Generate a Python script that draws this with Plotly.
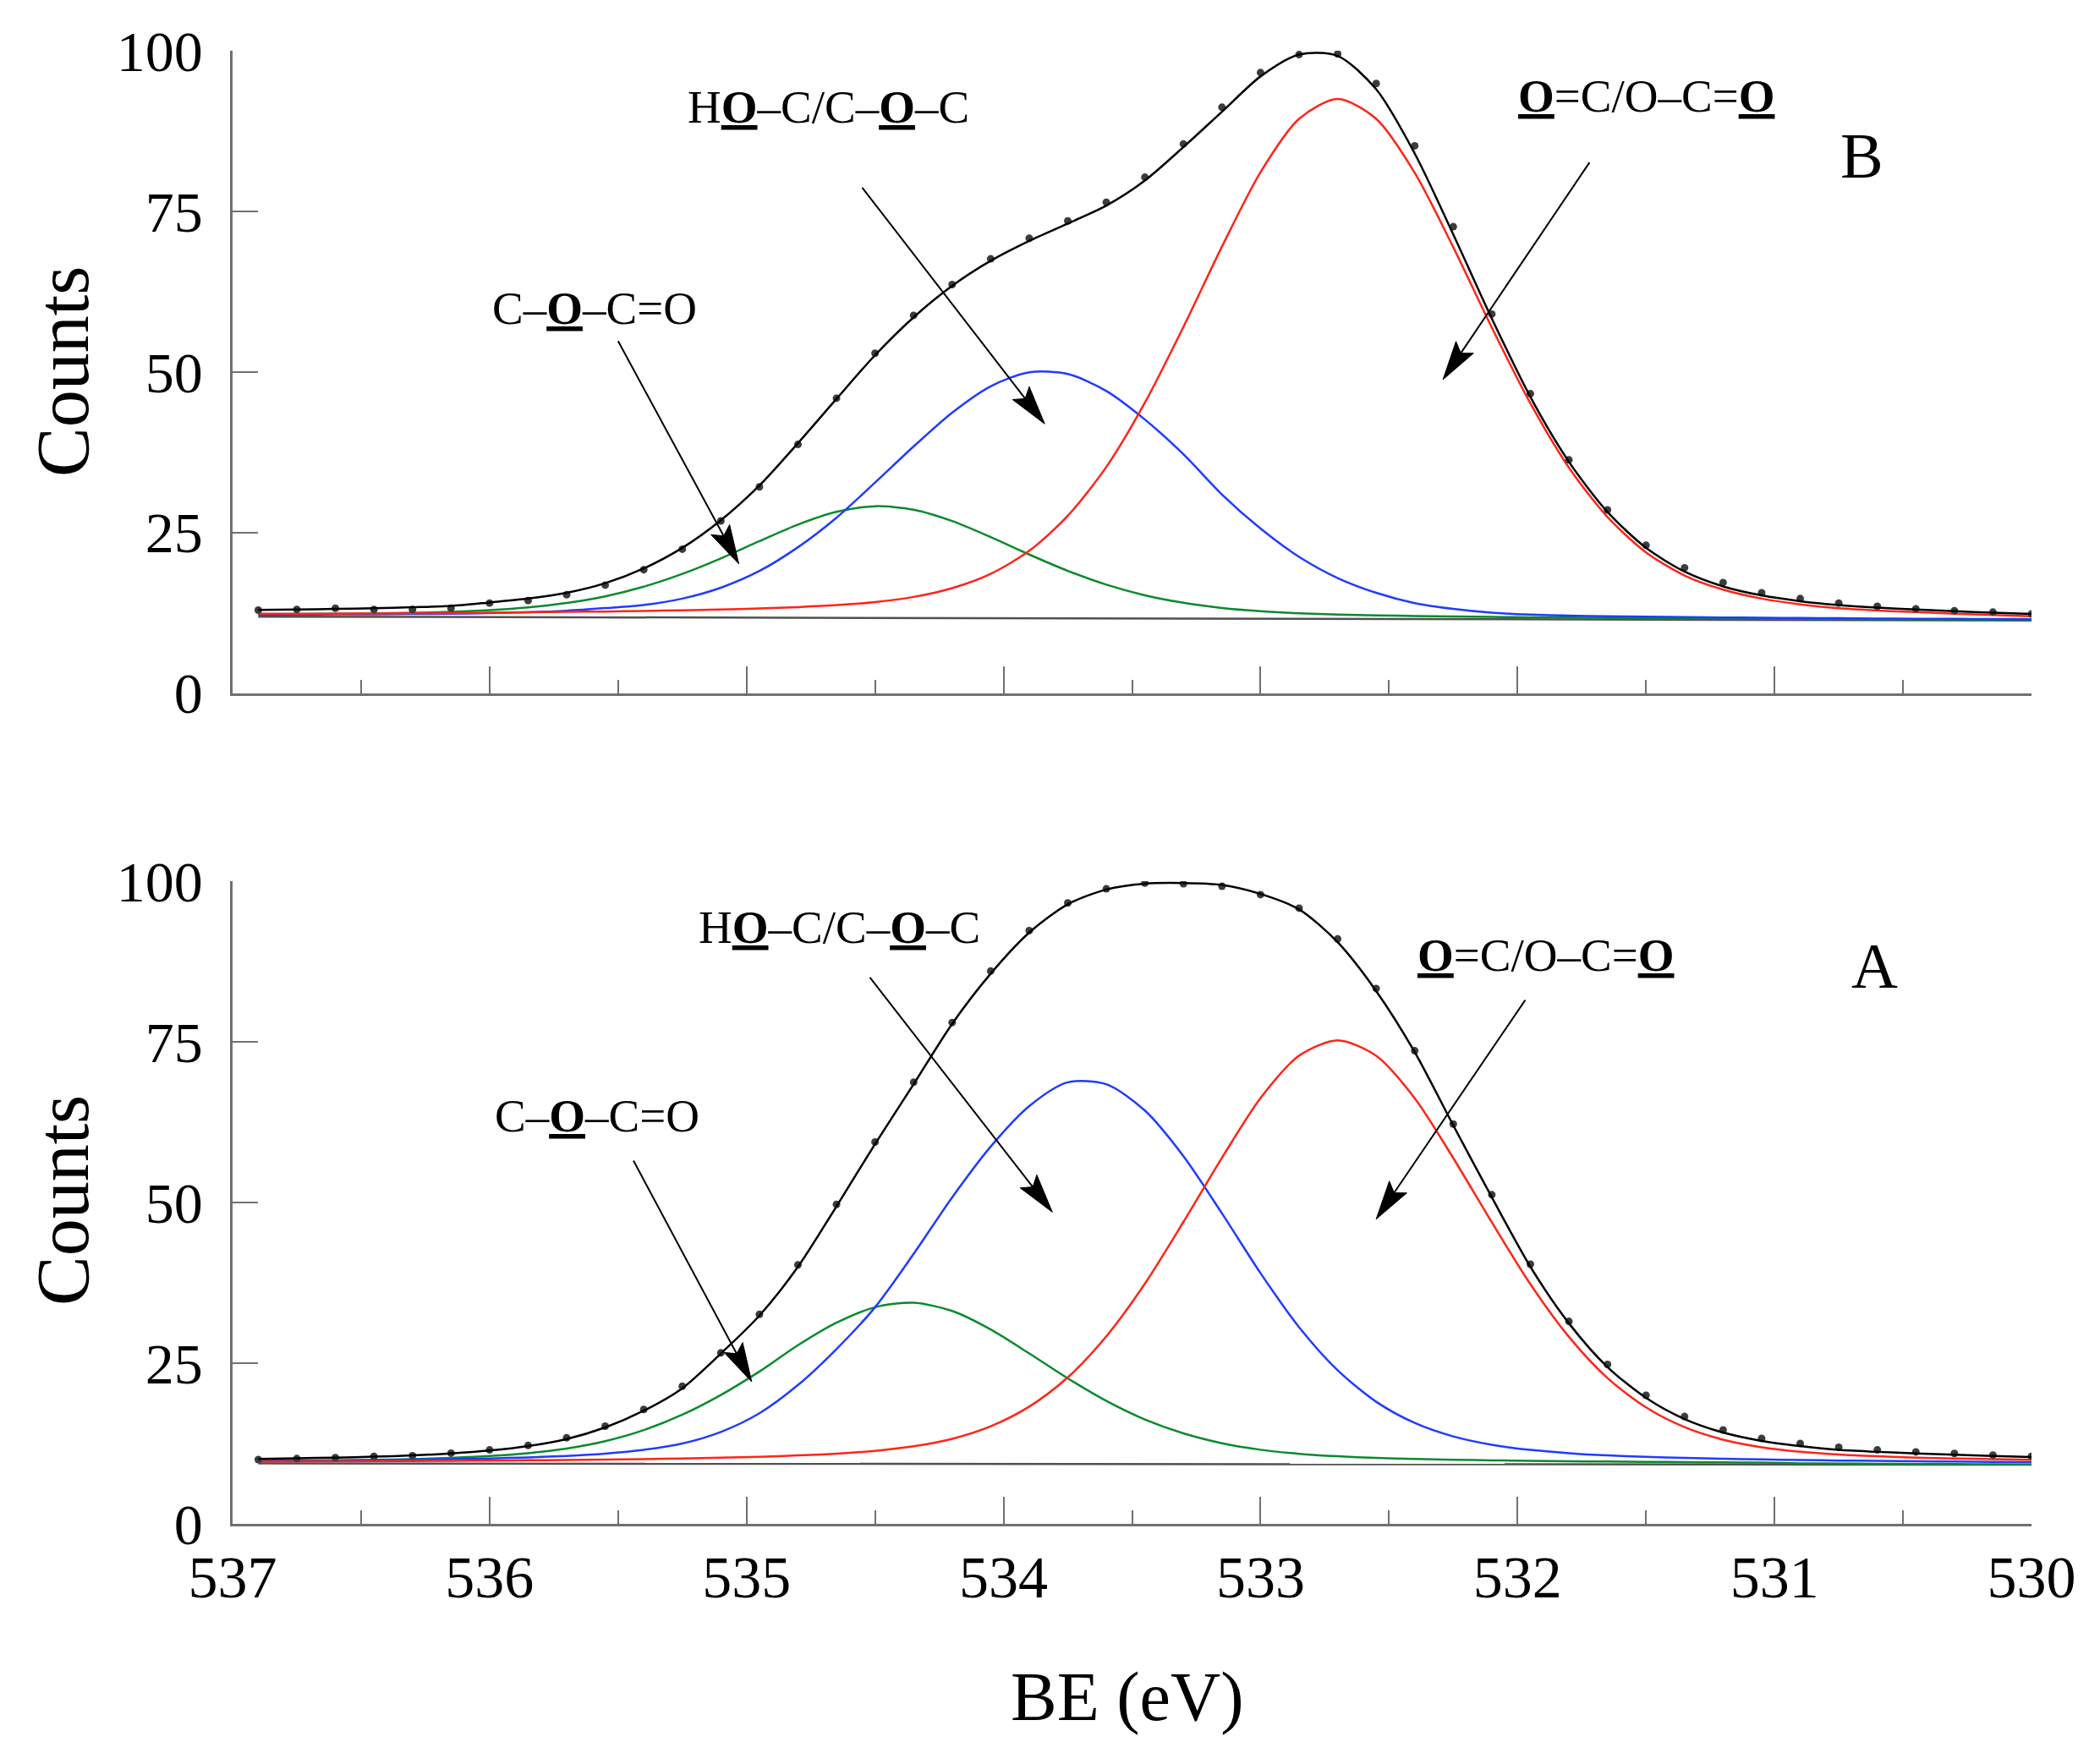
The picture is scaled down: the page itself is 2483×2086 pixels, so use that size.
import math
import plotly.graph_objects as go

# Binding energy grid (eV)
be = [536.9, 536.75, 536.6, 536.45, 536.3, 536.15, 536.0, 535.85, 535.7, 535.55,
      535.4, 535.25, 535.1, 534.95, 534.8, 534.65, 534.5, 534.35, 534.2, 534.05,
      533.9, 533.75, 533.6, 533.45, 533.3, 533.15, 533.0, 532.85, 532.7, 532.55,
      532.4, 532.25, 532.1, 531.95, 531.8, 531.65, 531.5, 531.35, 531.2, 531.05,
      530.9, 530.75, 530.6, 530.45, 530.3, 530.15, 530.0]

# ---------- Panel B (top) ----------
b_meas = [12.9, 13.0, 13.2, 13.0, 13.0, 13.2, 14.0, 14.4, 15.3, 16.8,
          19.2, 22.4, 26.8, 32.1, 38.7, 45.9, 52.9, 58.8, 63.6, 67.6,
          70.8, 73.5, 76.4, 80.3, 85.5, 91.2, 96.6, 99.4, 99.5, 94.9,
          85.2, 72.6, 59.0, 46.6, 36.3, 28.5, 23.0, 19.5, 17.2, 15.6,
          14.7, 14.0, 13.5, 13.1, 12.8, 12.6, 12.3]
b_fit = [12.95, 13.0, 13.1, 13.2, 13.35, 13.55, 14.1, 14.7, 15.6, 17.1,
         19.4, 22.6, 26.9, 32.3, 38.9, 45.8, 52.6, 58.5, 63.4, 67.3,
         70.4, 73.1, 75.9, 79.8, 85.0, 90.5, 96.0, 99.4, 99.2, 94.0,
         84.0, 71.4, 58.3, 46.1, 36.0, 28.2, 22.6, 18.9, 16.6, 15.2,
         14.3, 13.7, 13.3, 13.0, 12.75, 12.5, 12.3]
b_red = [12.33, 12.35, 12.36, 12.39, 12.43, 12.46, 12.51, 12.56, 12.63, 12.69,
         12.77, 12.88, 13.0, 13.16, 13.38, 13.68, 14.17, 14.96, 16.33, 18.55,
         22.14, 27.6, 35.2, 45.2, 57.0, 69.5, 81.1, 89.4, 92.5, 89.4,
         81.0, 69.4, 56.9, 45.1, 35.1, 27.4, 21.9, 18.3, 16.1, 14.7,
         13.8, 13.2, 12.85, 12.6, 12.35, 12.15, 11.95]
b_blue = [12.19, 12.21, 12.23, 12.26, 12.30, 12.35, 12.44, 12.58, 12.82, 13.22,
          13.7, 14.7, 16.4, 19.0, 22.7, 27.3, 32.77, 38.38, 43.65, 47.76,
          49.94, 49.68, 47.03, 42.58, 37.17, 30.9, 25.6, 21.2, 17.9, 15.6,
          14.0, 13.1, 12.5, 12.2, 12.05, 11.95, 11.87, 11.81, 11.76, 11.72,
          11.68, 11.64, 11.6, 11.57, 11.54, 11.51, 11.48]
b_green = [12.25, 12.29, 12.33, 12.39, 12.49, 12.64, 12.90, 13.33, 14.01, 15.05,
           16.55, 18.54, 20.96, 23.64, 26.22, 28.20, 29.08, 28.55, 26.78, 24.28,
           21.56, 19.02, 16.87, 15.22, 14.05, 13.24, 12.74, 12.42, 12.21, 12.08,
           11.99, 11.91, 11.84, 11.79, 11.75, 11.70, 11.67, 11.64, 11.60, 11.57,
           11.55, 11.52, 11.49, 11.47, 11.45, 11.43, 11.41]
b_bg_x = [536.9, 530.0]
b_bg_y = [11.9, 11.3]

# ---------- Panel A (bottom) ----------
a_meas = [10.0, 10.15, 10.3, 10.5, 10.6, 11.0, 11.5, 12.2, 13.4, 15.2,
          17.8, 21.4, 26.6, 32.6, 40.3, 49.7, 59.4, 68.7, 78.0, 86.0,
          92.3, 96.6, 98.8, 99.7, 99.6, 99.2, 97.9, 95.8, 91.0, 83.3,
          73.6, 62.2, 51.2, 40.4, 31.5, 24.8, 20.0, 16.7, 14.6, 13.3,
          12.5, 11.9, 11.5, 11.2, 10.95, 10.7, 10.5]
a_fit = [10.1, 10.2, 10.3, 10.45, 10.65, 10.95, 11.4, 12.1, 13.2, 15.0,
         17.6, 21.1, 26.5, 32.4, 40.0, 49.4, 59.1, 68.4, 77.8, 85.6,
         92.0, 96.4, 98.7, 99.6, 99.7, 99.4, 98.0, 95.6, 90.5, 82.9,
         73.4, 62.0, 50.8, 40.0, 31.2, 24.4, 19.6, 16.3, 14.2, 12.9,
         12.1, 11.5, 11.2, 10.95, 10.75, 10.55, 10.4]
a_red = [9.7, 9.72, 9.74, 9.76, 9.78, 9.81, 9.84, 9.89, 9.94, 10.0,
         10.07, 10.17, 10.29, 10.44, 10.65, 10.93, 11.36, 12.06, 13.23, 15.18,
         18.24, 22.79, 29.18, 37.37, 46.97, 56.96, 66.25, 72.84, 75.24, 72.83,
         66.22, 56.91, 46.91, 37.30, 29.09, 22.68, 18.12, 15.04, 13.09, 11.91,
         11.21, 10.78, 10.51, 10.31, 10.18, 10.06, 9.96]
a_blue = [9.8, 9.84, 9.88, 9.93, 9.99, 10.07, 10.18, 10.34, 10.57, 10.93,
          11.52, 12.5, 14.3, 17.2, 21.6, 27.2, 33.7, 42.0, 50.8, 58.7,
          65.0, 68.7, 68.4, 64.3, 57.2, 48.3, 39.0, 30.6, 23.9, 19.0,
          15.7, 13.6, 12.3, 11.5, 11.0, 10.65, 10.42, 10.25, 10.12, 10.02,
          9.93, 9.85, 9.79, 9.73, 9.69, 9.64, 9.6]
a_green = [9.75, 9.8, 9.87, 9.96, 10.08, 10.27, 10.55, 11.0, 11.72, 12.86,
           14.58, 16.98, 20.05, 23.7, 27.8, 31.3, 33.7, 34.4, 33.12, 30.24,
           26.51, 22.63, 19.12, 16.23, 14.07, 12.54, 11.53, 10.90, 10.51, 10.26,
           10.09, 9.97, 9.88, 9.81, 9.74, 9.69, 9.65, 9.60, 9.56, 9.53,
           9.42, 9.38, 9.35, 9.32, 9.30, 9.28, 9.26]
a_bg_x = [536.9, 530.0]
a_bg_y = [9.4, 9.2]

for arr in (b_meas, b_fit, b_red, b_blue, b_green, a_meas, a_fit, a_red, a_blue, a_green):
    assert len(arr) == len(be), len(arr)

# Labels and arrows (data coordinates)
lab_coc = "C\u2013<b><u>O</u></b>\u2013C=O"
lab_hoc = "H<b><u>O</u></b>\u2013C/C\u2013<b><u>O</u></b>\u2013C"
lab_oco = "<b><u>O</u></b>=C/O\u2013C=<b><u>O</u></b>"

b_labels = [(lab_coc, 535.59, 59.9), (lab_hoc, 534.68, 91.2), (lab_oco, 531.50, 93.0)]
b_arrows = [((535.50, 54.8), (535.03, 20.1)),
            ((534.55, 78.7), (533.84, 41.9)),
            ((531.72, 82.6), (532.29, 48.8))]
b_letter = ("B", 530.66, 83.7)

a_labels = [(lab_coc, 535.58, 63.5), (lab_hoc, 534.64, 92.8), (lab_oco, 531.89, 88.5)]
a_arrows = [((535.44, 56.5), (534.98, 22.1)),
            ((534.52, 85.0), (533.81, 48.5)),
            ((531.97, 81.5), (532.55, 47.4))]
a_letter = ("A", 530.61, 86.8)

FONT = "Liberation Serif, Times New Roman, serif"
RED = "#ff2418"
BLUE = "#1f3cff"
GREEN = "#0b8a2c"
AXC = "#707070"

# pixel scale of the plot areas (used only to shape the arrow heads)
PX_PER_EV = 2127 / 7.0
PX_PER_COUNT = 759.5 / 100.0
HEAD_LEN = 46.0
HEAD_HALF = 12.5

fig = go.Figure()
shapes = []


def add_panel(xa, ya, meas, fit, red, blue, green, bgx, bgy):
    fig.add_trace(go.Scatter(x=bgx, y=bgy, mode="lines", xaxis=xa, yaxis=ya,
                             line=dict(color="#505050", width=2.5), showlegend=False))
    fig.add_trace(go.Scatter(x=be, y=green, mode="lines", xaxis=xa, yaxis=ya,
                             line=dict(color=GREEN, width=2.5, shape="spline", smoothing=0.8),
                             showlegend=False))
    fig.add_trace(go.Scatter(x=be, y=blue, mode="lines", xaxis=xa, yaxis=ya,
                             line=dict(color=BLUE, width=2.5, shape="spline", smoothing=0.8),
                             showlegend=False))
    fig.add_trace(go.Scatter(x=be, y=red, mode="lines", xaxis=xa, yaxis=ya,
                             line=dict(color=RED, width=2.5, shape="spline", smoothing=0.8),
                             showlegend=False))
    fig.add_trace(go.Scatter(x=be, y=meas, mode="markers", xaxis=xa, yaxis=ya,
                             marker=dict(color="#3c3c3c", size=9, symbol="circle"),
                             showlegend=False))
    fig.add_trace(go.Scatter(x=be, y=fit, mode="lines", xaxis=xa, yaxis=ya,
                             line=dict(color="black", width=2.5, shape="spline", smoothing=0.8),
                             showlegend=False))


def add_arrows(xa, ya, arrows):
    for (x0, y0), (x1, y1) in arrows:
        # screen-like frame: right = -eV, up = counts
        sx0, sy0 = -x0 * PX_PER_EV, y0 * PX_PER_COUNT
        sx1, sy1 = -x1 * PX_PER_EV, y1 * PX_PER_COUNT
        dx, dy = sx1 - sx0, sy1 - sy0
        n = math.hypot(dx, dy)
        ux, uy = dx / n, dy / n
        px, py = -uy, ux
        bx, by = sx1 - HEAD_LEN * ux, sy1 - HEAD_LEN * uy
        nx, ny = sx1 - 0.82 * HEAD_LEN * ux, sy1 - 0.82 * HEAD_LEN * uy
        pts = [(sx1, sy1), (bx + HEAD_HALF * px, by + HEAD_HALF * py), (nx, ny),
               (bx - HEAD_HALF * px, by - HEAD_HALF * py)]
        pts = [(-sx / PX_PER_EV, sy / PX_PER_COUNT) for sx, sy in pts]
        path = "M " + " L ".join(f"{p[0]:.5f},{p[1]:.4f}" for p in pts) + " Z"
        shapes.append(dict(type="path", path=path, xref=xa, yref=ya,
                           fillcolor="black", line=dict(color="black", width=1)))
        # shaft ends at the notch of the head
        fig.add_trace(go.Scatter(x=[x0, -nx / PX_PER_EV], y=[y0, ny / PX_PER_COUNT],
                                 mode="lines", xaxis=xa, yaxis=ya,
                                 line=dict(color="black", width=2), showlegend=False))


add_panel("x", "y", b_meas, b_fit, b_red, b_blue, b_green, b_bg_x, b_bg_y)
add_arrows("x", "y", b_arrows)
add_panel("x2", "y2", a_meas, a_fit, a_red, a_blue, a_green, a_bg_x, a_bg_y)
add_arrows("x2", "y2", a_arrows)

annotations = []
for txt, xx, yy in b_labels:
    annotations.append(dict(text=txt, x=xx, y=yy, xref="x", yref="y", showarrow=False,
                            font=dict(size=55, color="black", family=FONT)))
for txt, xx, yy in a_labels:
    annotations.append(dict(text=txt, x=xx, y=yy, xref="x2", yref="y2", showarrow=False,
                            font=dict(size=55, color="black", family=FONT)))
annotations.append(dict(text=b_letter[0], x=b_letter[1], y=b_letter[2], xref="x", yref="y",
                        showarrow=False, font=dict(size=76, color="black", family=FONT)))
annotations.append(dict(text=a_letter[0], x=a_letter[1], y=a_letter[2], xref="x2", yref="y2",
                        showarrow=False, font=dict(size=76, color="black", family=FONT)))
# axis titles
for yy in (0.7819, 0.2193):
    annotations.append(dict(text="Counts", x=-0.094, y=yy, xref="paper", yref="paper",
                            textangle=-90, showarrow=False, xanchor="center", yanchor="middle",
                            font=dict(size=88, color="black", family=FONT)))
annotations.append(dict(text="BE (eV)", x=0.4974, y=-0.1172, xref="paper", yref="paper",
                        showarrow=False, xanchor="center", yanchor="middle",
                        font=dict(size=82, color="black", family=FONT)))

xcommon = dict(range=[537, 530], showline=True, linecolor=AXC, linewidth=2.5,
               ticks="inside", ticklen=32, tickwidth=2, tickcolor=AXC,
               tick0=530, dtick=1, showgrid=False, zeroline=False,
               minor=dict(ticks="inside", ticklen=16, tickwidth=2, tickcolor=AXC,
                          dtick=0.5, tick0=530, showgrid=False),
               tickfont=dict(size=70, color="black", family=FONT))
ycommon = dict(range=[0, 100], showline=True, linecolor=AXC, linewidth=2.5,
               ticks="inside", ticklen=30, tickwidth=2, tickcolor=AXC,
               tickvals=[0, 25, 50, 75, 100], showgrid=False, zeroline=False,
               tickfont=dict(size=68, color="black", family=FONT),
               ticklabelstandoff=19)

fig.update_layout(
    width=2483, height=2086,
    margin=dict(l=275, r=81, t=60, b=284),
    paper_bgcolor="white", plot_bgcolor="white",
    font=dict(family=FONT, color="black"),
    xaxis=dict(xcommon, domain=[0, 1], anchor="y", showticklabels=False),
    yaxis=dict(ycommon, domain=[0.564, 1.0], anchor="x"),
    xaxis2=dict(xcommon, domain=[0, 1], anchor="y2", showticklabels=True,
                ticklabelstandoff=0),
    yaxis2=dict(ycommon, domain=[0.0, 0.4363], anchor="x2"),
    annotations=annotations,
    shapes=shapes,
    showlegend=False,
)

fig.write_html("out.html")
